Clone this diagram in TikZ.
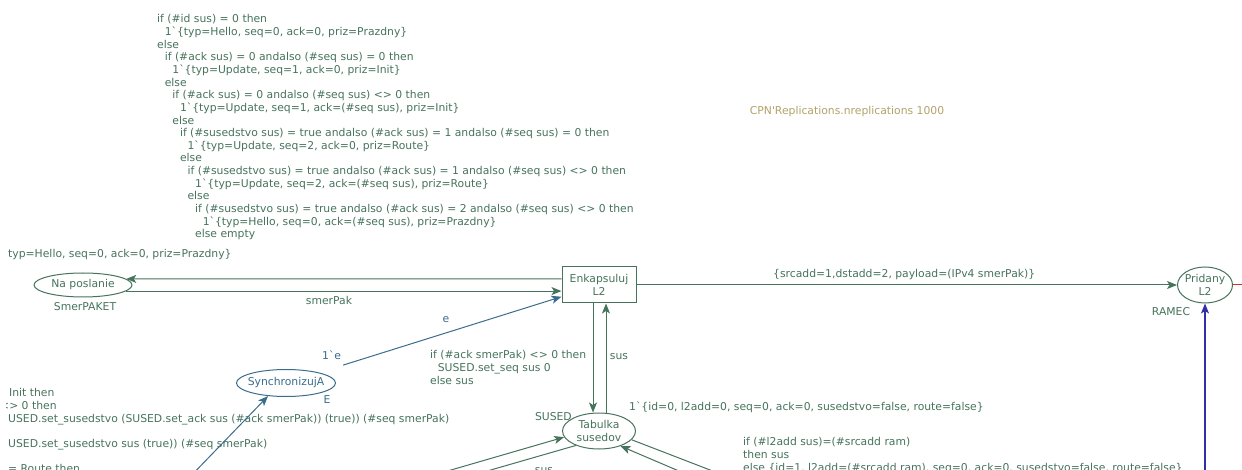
\documentclass[tikz,border=0pt]{standalone}
\usepackage{fontspec}
\setmainfont{DejaVu Sans}
\usetikzlibrary{arrows.meta,shapes.geometric}
\definecolor{CpnGreen}{RGB}{70,115,92}
\definecolor{CpnTeal}{RGB}{58,108,140}
\definecolor{CpnBlue}{RGB}{48,48,165}
\definecolor{CpnRed}{RGB}{215,45,45}
\definecolor{CpnKhaki}{RGB}{178,162,105}
\newcommand\cpnfont{\fontsize{10.8}{12.65}\selectfont}
\newlength\cpnind
\setlength\cpnind{7.6pt}
\tikzset{
  cpn/place/.style={
    ellipse,
    draw=CpnGreen,
    line width=1pt,
    fill=white,
    align=center,
    text=CpnGreen,
    inner xsep=-4pt,
    inner ysep=0pt,
    font=\cpnfont
  },
  cpn/trans/.style={
    rectangle,
    draw=CpnGreen,
    line width=1pt,
    fill=white,
    align=center,
    text=CpnGreen,
    inner sep=0pt,
    font=\cpnfont
  },
  cpn/arc/.style={-{Stealth[length=10pt,width=8pt,inset=2.5pt]}, line width=1pt, draw=CpnGreen},
  cpn/line/.style={line width=1pt, draw=CpnGreen},
  cpn/inscr/.style={font=\cpnfont, text=CpnGreen, inner sep=0pt, text height=8pt, text depth=2.5pt},
  cpn/code/.style={font=\cpnfont, text=CpnGreen, inner sep=0pt, align=left, anchor=north west}
}

\begin{document}
\begin{tikzpicture}[x=1pt,y=-1pt]
  \useasboundingbox (0,0) rectangle (1242,470);
  \clip (6.5,0) rectangle (1242,470);

  % places and transition
  \node[cpn/place,minimum width=98pt,minimum height=24pt] (napos) at (83,285) {Na poslanie};
  \node[cpn/trans,minimum width=74pt,minimum height=36pt] (enk) at (599,285) {Enkapsuluj\\L2};
  \node[cpn/place,minimum width=55pt,minimum height=36pt] (prid) at (1205,285) {Pridany\\L2};
  \node[cpn/place,minimum width=73pt,minimum height=36pt] (tab) at (599,431) {Tabulka\\susedov};
  \node[cpn/place,draw=CpnTeal,text=CpnTeal,minimum width=99pt,minimum height=27pt] (synch) at (286,383) {SynchronizujA};

  % colour sets and markings
  \node[cpn/inscr] (naposType) at (85,308) {SmerPAKET};
  \node[cpn/inscr] (pridType) at (1171,313) {RAMEC};
  \node[cpn/inscr,anchor=east] (tabType) at (572,418) {SUSED};
  \node[cpn/inscr,text=CpnTeal] (synchType) at (327,401) {E};
  \node[cpn/inscr,text=CpnTeal,anchor=west] (synchInit) at (322,357) {1\textasciigrave e};
  \node[cpn/inscr,anchor=west] (tabInit) at (629,408) {1\textasciigrave\{id=0, l2add=0, seq=0, ack=0, susedstvo=false, route=false\}};
  \node[cpn/inscr,anchor=west] (naposInit) at (8,255) {typ=Hello, seq=0, ack=0, priz=Prazdny\}};
  \node[cpn/inscr,text=CpnKhaki] (repl) at (847,112) {CPN\textquotesingle Replications.nreplications 1000};

  % arc inscriptions
  \node[cpn/inscr] (lSmer) at (329,302) {smerPak};
  \node[cpn/inscr,text=CpnTeal] (lE) at (446,320) {e};
  \node[cpn/inscr,anchor=west] (lRam) at (773,275) {\{srcadd=1,dstadd=2, payload=(IPv4 smerPak)\}};
  \node[cpn/inscr] (lSusUp) at (619,357) {sus};
  \node[cpn/inscr] (lSusLow) at (544,471) {sus};
  \node[cpn/code] (lSeq) at (430,350.4) {if (\#ack smerPak) <> 0 then\\
    \hspace*{\cpnind}SUSED.set\_seq sus 0\\
    else sus};
  \node[cpn/code] (lL2add) at (743,437.4) {if (\#l2add sus)=(\#srcadd ram)\\
    then sus\\
    else \{id=1, l2add=(\#srcadd ram), seq=0, ack=0, susedstvo=false, route=false\}};
  \node[cpn/code] (lSet) at (8,388.4) {\hspace*{1pt}Init then\\
    \hspace*{-8pt}<> 0 then\\
    USED.set\_susedstvo (SUSED.set\_ack sus (\#ack smerPak)) (true)) (\#seq smerPak)\\[12.65pt]
    USED.set\_susedstvo sus (true)) (\#seq smerPak)\\[12.65pt]
    = Route then};
  \node[cpn/code] (lHello) at (157,14.4) {if (\#id sus) = 0 then\\
    \hspace*{\cpnind}1\textasciigrave\{typ=Hello, seq=0, ack=0, priz=Prazdny\}\\
    else\\
    \hspace*{\cpnind}if (\#ack sus) = 0 andalso (\#seq sus) = 0 then\\
    \hspace*{2\cpnind}1\textasciigrave\{typ=Update, seq=1, ack=0, priz=Init\}\\
    \hspace*{\cpnind}else\\
    \hspace*{2\cpnind}if (\#ack sus) = 0 andalso (\#seq sus) <> 0 then\\
    \hspace*{3\cpnind}1\textasciigrave\{typ=Update, seq=1, ack=(\#seq sus), priz=Init\}\\
    \hspace*{2\cpnind}else\\
    \hspace*{3\cpnind}if (\#susedstvo sus) = true andalso (\#ack sus) = 1 andalso (\#seq sus) = 0 then\\
    \hspace*{4\cpnind}1\textasciigrave\{typ=Update, seq=2, ack=0, priz=Route\}\\
    \hspace*{3\cpnind}else\\
    \hspace*{4\cpnind}if (\#susedstvo sus) = true andalso (\#ack sus) = 1 andalso (\#seq sus) <> 0 then\\
    \hspace*{5\cpnind}1\textasciigrave\{typ=Update, seq=2, ack=(\#seq sus), priz=Route\}\\
    \hspace*{4\cpnind}else\\
    \hspace*{5\cpnind}if (\#susedstvo sus) = true andalso (\#ack sus) = 2 andalso (\#seq sus) <> 0 then\\
    \hspace*{6\cpnind}1\textasciigrave\{typ=Hello, seq=0, ack=(\#seq sus), priz=Prazdny\}\\
    \hspace*{5\cpnind}else empty};

  % free ends outside the view
  \coordinate (redEnd) at (1250,285);
  \coordinate (blueSrc) at (1205,480);
  \coordinate (synchSrc) at (187,480);
  \coordinate (tabInL) at (420,479);
  \coordinate (tabOutL) at (456,480);
  \coordinate (tabOutR) at (736,480);
  \coordinate (tabInR) at (700,480);

  % arcs
  \draw[cpn/arc] ([yshift=6pt]enk.west) -- (napos.8);
  \draw[cpn/arc] (napos.-8) -- (napos.-8 -| enk.west);
  \draw[cpn/arc] (enk) -- (prid);
  \draw[cpn/line,draw=CpnRed] (prid.east) -- (redEnd);
  \draw[cpn/arc,draw=CpnBlue,line width=1.2pt] (blueSrc) -- (prid.south);
  \draw[cpn/arc,draw=CpnTeal,shorten <=25pt] (synch) -- (enk);
  \draw[cpn/arc,draw=CpnTeal] (synchSrc) -- (synch.216);
  \draw[cpn/arc] ([xshift=-6pt]enk.south) -- ([xshift=-6pt]tab.north);
  \draw[cpn/arc] ([xshift=7pt]tab.north) -- ([xshift=7pt]enk.south);
  \draw[cpn/arc] (tabInL) -- (tab.190);
  \draw[cpn/line] (tab.212) -- (tabOutL);
  \draw[cpn/line] (tab.-15) -- (tabOutR);
  \draw[cpn/arc] (tabInR) -- (tab.-35);
\end{tikzpicture}
\end{document}
